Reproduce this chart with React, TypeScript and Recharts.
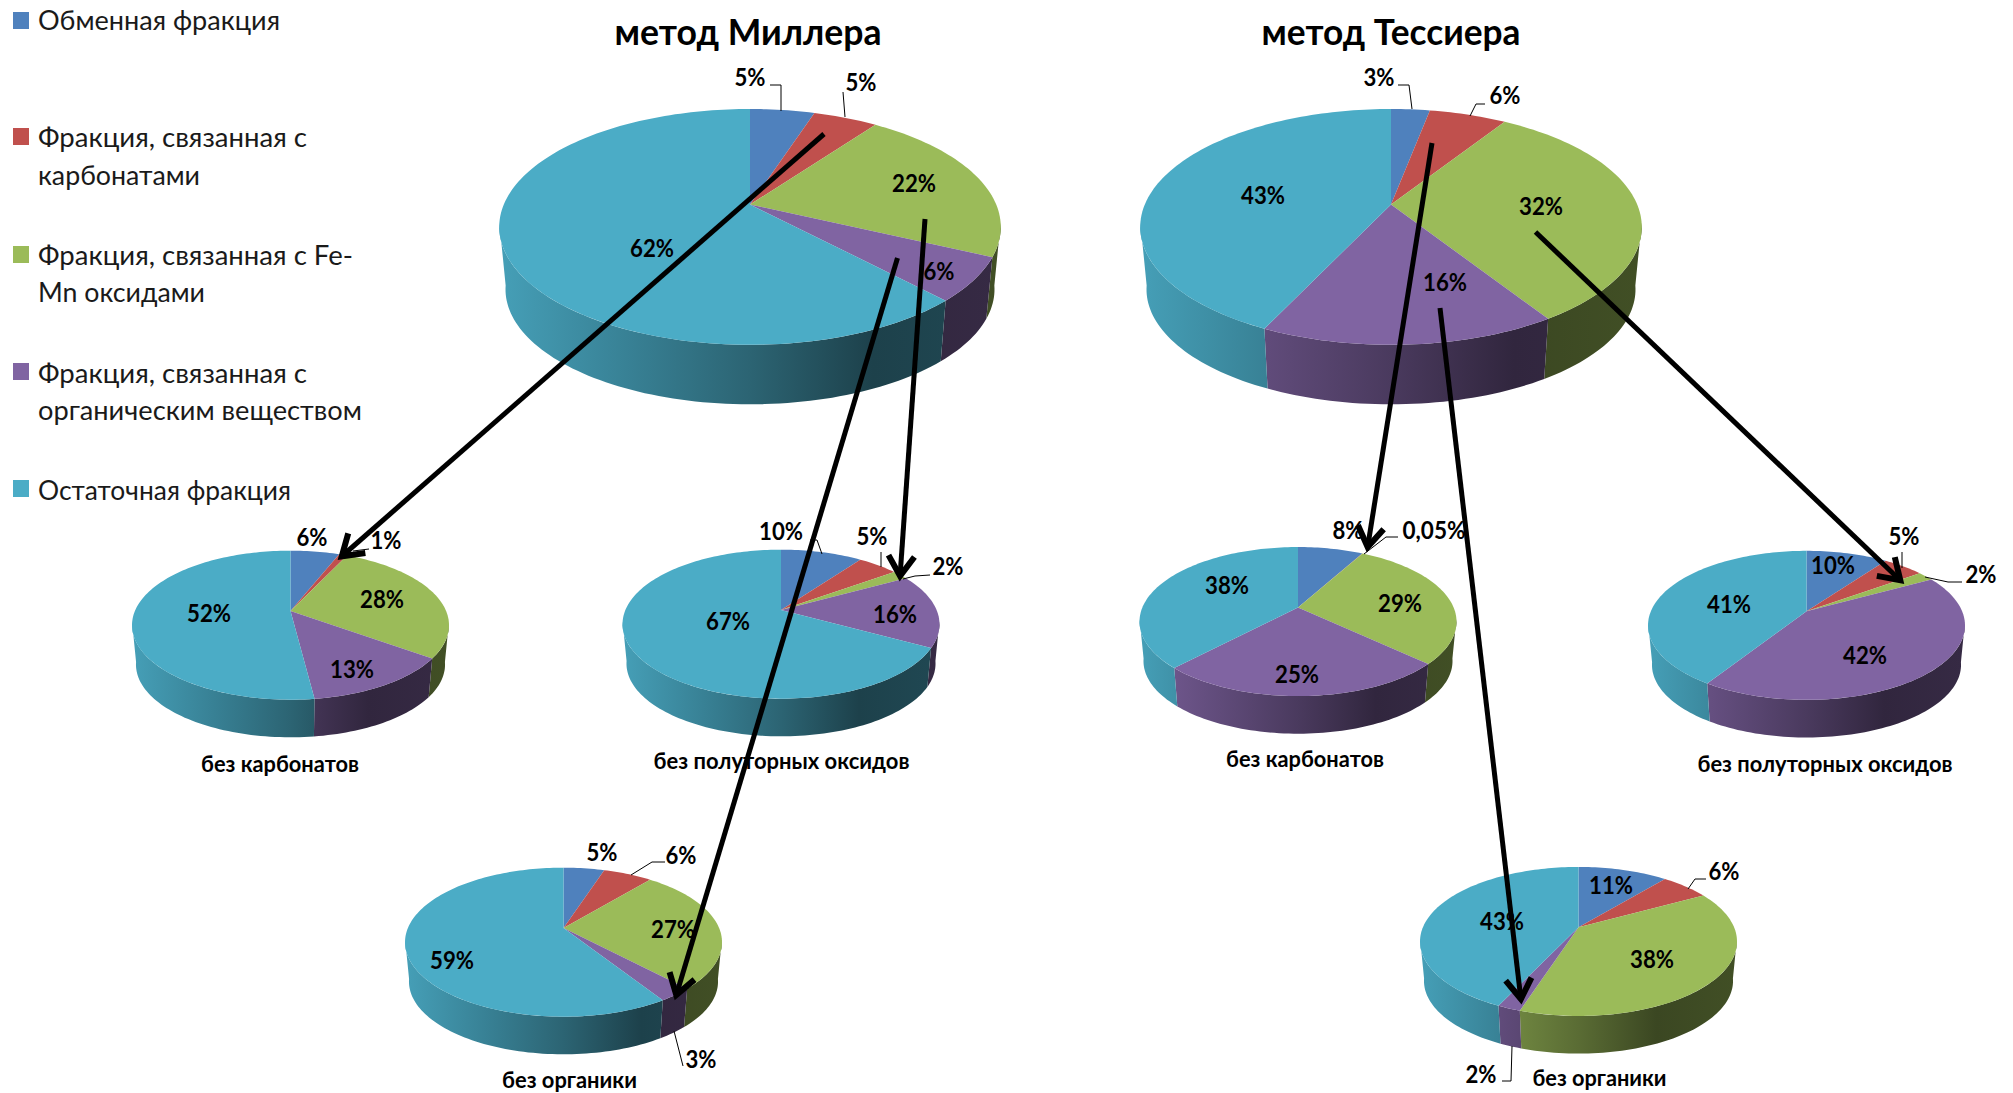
import { Pie, PieChart } from 'recharts'

const WIDTH = 2013
const HEIGHT = 1093
const FONT = 'Lato, "Open Sans", "Noto Sans", sans-serif'

const fractionNames = [
  'Обменная фракция',
  'Фракция, связанная с карбонатами',
  'Фракция, связанная с Fe-Mn оксидами',
  'Фракция, связанная с органическим веществом',
  'Остаточная фракция',
]
const fractionColors = ['#4F81BD', '#C0504D', '#9BBB59', '#8064A2', '#4BACC6']

const millerTotal = [5, 5, 22, 6, 62]
const millerNoCarbonates = [6, 1, 28, 13, 52]
const millerNoOxides = [10, 5, 2, 16, 67]
const millerNoOrganic = [5, 6, 27, 3, 59]
const tessierTotal = [3, 6, 32, 16, 43]
const tessierNoCarbonates = [8, 0.05, 29, 25, 38]
const tessierNoOxides = [10, 5, 2, 42, 41]
const tessierNoOrganic = [11, 6, 38, 2, 43]

// perspective of the tilted disc
const TILT = 0.19
const SQUASH = 0.4616
const BOTTOM_SCALE = 0.975
const DEPTH = 0.256
const WALL_STOPS = [
  [0, 0.92],
  [0.25, 0.75],
  [0.5, 0.58],
  [0.75, 0.38],
  [1, 0.42],
]

type Label = { x: number; y: number; leader?: number[][] }
type PieSpec = {
  values: number[]
  cx: number
  cy: number
  radius: number
  labels: Label[]
}

const BIG = 246.2
const SMALL = 155.6

const pies: PieSpec[] = [
  {
    values: millerTotal,
    cx: 750,
    cy: 204.5,
    radius: BIG,
    labels: [
      { x: 750, y: 77, leader: [[770, 85], [781, 85], [781, 111]] },
      { x: 861, y: 82, leader: [[843, 92], [845, 117]] },
      { x: 914, y: 183 },
      { x: 939, y: 271 },
      { x: 652, y: 248 },
    ],
  },
  {
    values: tessierTotal,
    cx: 1391,
    cy: 204.5,
    radius: BIG,
    labels: [
      { x: 1379, y: 77, leader: [[1398, 85], [1409, 85], [1412, 109]] },
      { x: 1505, y: 95, leader: [[1485, 104], [1476, 104], [1470, 116]] },
      { x: 1541, y: 206 },
      { x: 1445, y: 282 },
      { x: 1263, y: 195 },
    ],
  },
  {
    values: millerNoCarbonates,
    cx: 290.5,
    cy: 611,
    radius: SMALL,
    labels: [
      { x: 312, y: 537 },
      { x: 386, y: 540, leader: [[353, 551], [369, 549]] },
      { x: 382, y: 599 },
      { x: 352, y: 669 },
      { x: 209, y: 613 },
    ],
  },
  {
    values: millerNoOxides,
    cx: 781,
    cy: 610,
    radius: SMALL,
    labels: [
      { x: 781, y: 531, leader: [[810, 540], [817, 540], [822, 554]] },
      { x: 872, y: 536, leader: [[881, 552], [881, 567]] },
      { x: 948, y: 566, leader: [[930, 575], [915, 576], [903, 579]] },
      { x: 895, y: 614 },
      { x: 728, y: 621 },
    ],
  },
  {
    values: millerNoOrganic,
    cx: 563.5,
    cy: 928,
    radius: SMALL,
    labels: [
      { x: 602, y: 852 },
      { x: 681, y: 855, leader: [[665, 862], [652, 862], [631, 875]] },
      { x: 673, y: 929 },
      { x: 701, y: 1059, leader: [[674, 1031], [683, 1066]] },
      { x: 452, y: 960 },
    ],
  },
  {
    values: tessierNoCarbonates,
    cx: 1298,
    cy: 607.4,
    radius: SMALL,
    labels: [
      { x: 1348, y: 530 },
      { x: 1434, y: 530, leader: [[1398, 537], [1386, 537], [1364, 554]] },
      { x: 1400, y: 603 },
      { x: 1297, y: 674 },
      { x: 1227, y: 585 },
    ],
  },
  {
    values: tessierNoOxides,
    cx: 1806.5,
    cy: 611.2,
    radius: SMALL,
    labels: [
      { x: 1833, y: 565 },
      { x: 1904, y: 536, leader: [[1902, 552], [1902, 568]] },
      { x: 1981, y: 574, leader: [[1962, 582], [1948, 582], [1925, 577]] },
      { x: 1865, y: 655 },
      { x: 1729, y: 604 },
    ],
  },
  {
    values: tessierNoOrganic,
    cx: 1578.5,
    cy: 927.3,
    radius: SMALL,
    labels: [
      { x: 1611, y: 885 },
      { x: 1724, y: 871, leader: [[1706, 879], [1695, 879], [1688, 889]] },
      { x: 1652, y: 959 },
      { x: 1481, y: 1074, leader: [[1512, 1046], [1511, 1081], [1502, 1081]] },
      { x: 1502, y: 921 },
    ],
  },
]

const captions = [
  { text: 'без карбонатов', x: 280, y: 764, width: 158 },
  { text: 'без полуторных оксидов', x: 781.5, y: 761, width: 256 },
  { text: 'без органики', x: 569.5, y: 1080, width: 135 },
  { text: 'без карбонатов', x: 1305, y: 759, width: 158 },
  { text: 'без полуторных оксидов', x: 1825, y: 764, width: 255 },
  { text: 'без органики', x: 1599.5, y: 1078, width: 134 },
]

const titles = [
  { text: 'метод Миллера', x: 748, y: 32, width: 267 },
  { text: 'метод Тессиера', x: 1391, y: 32, width: 259 },
]

const legendRows = [
  { color: 0, swatchY: 12, lines: [{ text: 'Обменная фракция', y: 20.5, width: 242 }] },
  {
    color: 1,
    swatchY: 128,
    lines: [
      { text: 'Фракция, связанная с', y: 137.5, width: 269 },
      { text: 'карбонатами', y: 175.5, width: 162 },
    ],
  },
  {
    color: 2,
    swatchY: 246,
    lines: [
      { text: 'Фракция, связанная с Fe-', y: 255.5, width: 315 },
      { text: 'Mn оксидами', y: 292, width: 167 },
    ],
  },
  {
    color: 3,
    swatchY: 363,
    lines: [
      { text: 'Фракция, связанная с', y: 373.5, width: 269 },
      { text: 'органическим веществом', y: 410.5, width: 324 },
    ],
  },
  { color: 4, swatchY: 480, lines: [{ text: 'Остаточная фракция', y: 490.5, width: 253 }] },
]

const arrows = [
  [824, 134, 341, 557],
  [925, 219, 900, 577],
  [897.5, 258, 676, 996],
  [1432, 143, 1367.5, 548],
  [1440, 308, 1521, 1000],
  [1535.5, 232, 1901, 581],
]

// clockwise degrees from the top of the disc -> page coordinates
function project(deg: number, cx: number, cy: number, r: number, bottom = false) {
  const a = (deg * Math.PI) / 180
  const s = Math.sin(a)
  const c = Math.cos(a)
  const w = 1 + TILT * c
  const x = (r * s) / w
  const y = (-r * SQUASH * c) / w
  return bottom
    ? [cx + x * BOTTOM_SCALE, cy + y * BOTTOM_SCALE + DEPTH * r]
    : [cx + x, cy + y]
}

function arcPoints(from: number, to: number, cx: number, cy: number, r: number, bottom = false) {
  const steps = Math.max(2, Math.ceil(Math.abs(to - from) / 1.5))
  const pts: number[][] = []
  for (let i = 0; i <= steps; i++) {
    pts.push(project(from + ((to - from) * i) / steps, cx, cy, r, bottom))
  }
  return pts
}

const toPath = (pts: number[][]) =>
  pts.map((p, i) => `${i ? 'L' : 'M'}${p[0].toFixed(2)} ${p[1].toFixed(2)}`).join(' ') + ' Z'

function shade(hex: string, k: number) {
  const n = parseInt(hex.slice(1), 16)
  const ch = (v: number) => Math.round(v * k)
  return `rgb(${ch(n >> 16)},${ch((n >> 8) & 255)},${ch(n & 255)})`
}

function DiscSlice(props: any) {
  const { cx, cy, outerRadius: r, startAngle, endAngle, fill } = props
  // Pie angles run counter-clockwise from 3 o'clock
  const from = 90 - startAngle
  const to = 90 - endAngle
  const wallFrom = Math.max(from, 99)
  const wallTo = Math.min(to, 261)
  const gradientId = `wall-${Math.round(cx)}-${fill.slice(1)}`
  return (
    <g>
      {wallTo > wallFrom && (
        <>
          <defs>
            <linearGradient
              id={gradientId}
              gradientUnits="userSpaceOnUse"
              x1={cx - r}
              x2={cx + r}
              y1={0}
              y2={0}
            >
              {WALL_STOPS.map(([at, k]) => (
                <stop key={at} offset={at} stopColor={shade(fill, k)} />
              ))}
            </linearGradient>
          </defs>
          <path
            d={toPath([
              ...arcPoints(wallFrom, wallTo, cx, cy, r),
              ...arcPoints(wallTo, wallFrom, cx, cy, r, true),
            ])}
            fill={`url(#${gradientId})`}
          />
        </>
      )}
      <path d={toPath([[cx, cy], ...arcPoints(from, to, cx, cy, r)])} fill={fill} />
    </g>
  )
}

const percentText = (v: number) => `${String(v).replace('.', ',')}%`

function percentWidth(text: string) {
  let w = 0
  for (const ch of text) w += ch === '%' ? 18 : ch === ',' ? 6 : 13
  return w
}

function renderLabel(spec: PieSpec) {
  return (props: any) => {
    const label = spec.labels[props.index]
    const text = percentText(spec.values[props.index])
    return (
      <g>
        {label.leader && (
          <polyline
            points={label.leader.map((p) => p.join(',')).join(' ')}
            fill="none"
            stroke="#000"
            strokeWidth={1}
          />
        )}
        <text
          x={label.x}
          y={label.y}
          dy="0.36em"
          textAnchor="middle"
          fontFamily={FONT}
          fontWeight={700}
          fontSize={24}
          fill="#000"
          textLength={percentWidth(text)}
          lengthAdjust="spacingAndGlyphs"
        >
          {text}
        </text>
      </g>
    )
  }
}

export default function App() {
  return (
    <div style={{ position: 'absolute', left: 0, top: 0, width: WIDTH, height: HEIGHT, background: '#fff' }}>
      <PieChart width={WIDTH} height={HEIGHT} margin={{ top: 0, right: 0, bottom: 0, left: 0 }}>
        {pies.map((spec, p) => (
          <Pie
            key={p}
            data={spec.values.map((value, i) => ({
              name: fractionNames[i],
              value,
              fill: fractionColors[i],
            }))}
            dataKey="value"
            nameKey="name"
            cx={spec.cx}
            cy={spec.cy}
            outerRadius={spec.radius}
            startAngle={90}
            endAngle={-270}
            stroke="none"
            shape={DiscSlice}
            label={renderLabel(spec)}
            labelLine={false}
            isAnimationActive={false}
          />
        ))}
      </PieChart>
      <svg
        width={WIDTH}
        height={HEIGHT}
        style={{ position: 'absolute', left: 0, top: 0, pointerEvents: 'none' }}
        fontFamily={FONT}
      >
        <defs>
          <marker
            id="arrow-head"
            markerUnits="userSpaceOnUse"
            markerWidth={40}
            markerHeight={44}
            refX={30}
            refY={22}
            orient="auto"
          >
            <path d="M9 9 L29 22 L9 35" fill="none" stroke="#000" strokeWidth={6} />
          </marker>
        </defs>

        {legendRows.map((row) => (
          <g key={row.color}>
            <rect x={13} y={row.swatchY} width={16} height={17} fill={fractionColors[row.color]} />
            {row.lines.map((line) => (
              <text
                key={line.y}
                x={38}
                y={line.y}
                dy="0.36em"
                fontSize={27}
                fill="#1a1a1a"
                textLength={line.width}
                lengthAdjust="spacingAndGlyphs"
              >
                {line.text}
              </text>
            ))}
          </g>
        ))}

        {titles.map((t) => (
          <text
            key={t.text}
            x={t.x}
            y={t.y}
            dy="0.36em"
            textAnchor="middle"
            fontSize={36}
            fontWeight={700}
            textLength={t.width}
            lengthAdjust="spacingAndGlyphs"
          >
            {t.text}
          </text>
        ))}

        {captions.map((c) => (
          <text
            key={`${c.text}-${c.x}`}
            x={c.x}
            y={c.y}
            dy="0.36em"
            textAnchor="middle"
            fontSize={22}
            fontWeight={700}
            textLength={c.width}
            lengthAdjust="spacingAndGlyphs"
          >
            {c.text}
          </text>
        ))}

        {arrows.map(([x1, y1, x2, y2]) => (
          <line
            key={`${x1}-${y1}`}
            x1={x1}
            y1={y1}
            x2={x2}
            y2={y2}
            stroke="#000"
            strokeWidth={5}
            markerEnd="url(#arrow-head)"
          />
        ))}
      </svg>
    </div>
  )
}
